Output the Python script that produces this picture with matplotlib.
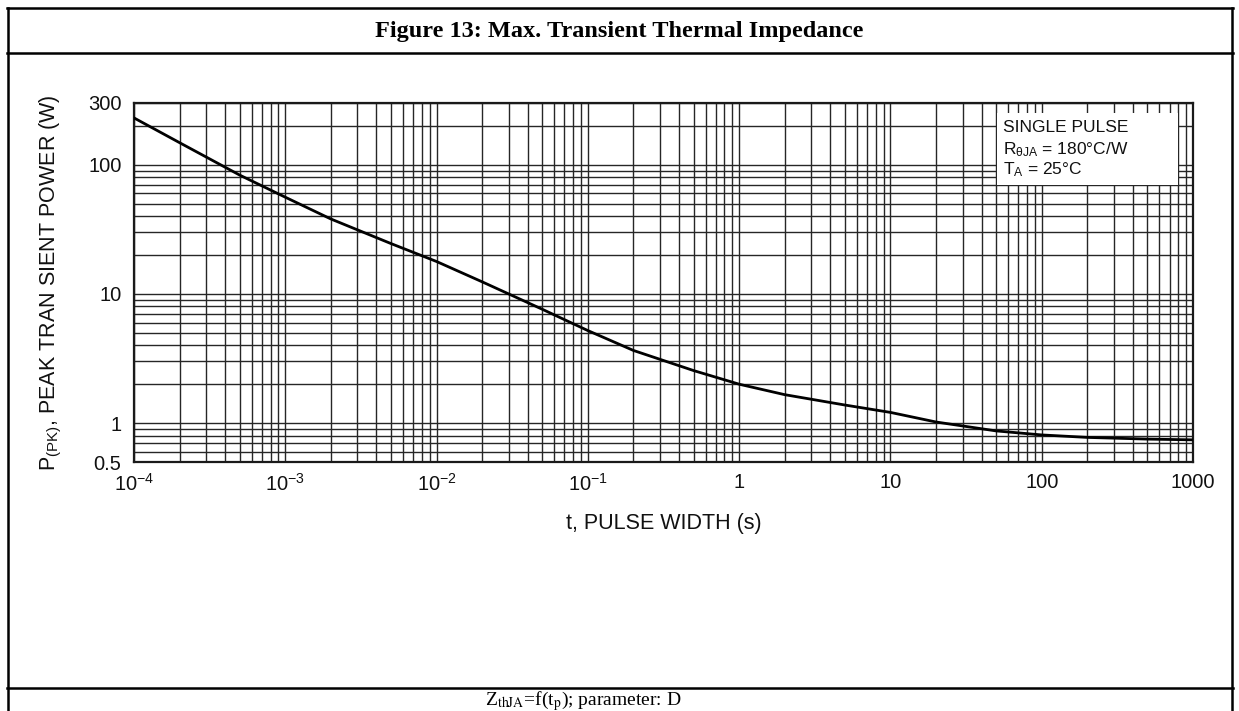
import matplotlib
matplotlib.use("Agg")
import matplotlib.pyplot as plt
from matplotlib.lines import Line2D
from matplotlib.patches import Rectangle
from matplotlib.ticker import LogLocator, FixedLocator, NullFormatter

# curve
pulse_width = [1e-4, 2e-4, 5e-4, 1e-3, 2e-3, 5e-3, 1e-2, 2e-2, 5e-2, 1e-1,
               2e-1, 5e-1, 1, 2, 5, 10, 20, 50, 100, 200, 500, 1000]
peak_power = [230, 148, 83, 56, 38, 24.5, 17.8, 12.4, 7.6, 5.2,
              3.65, 2.55, 2.0, 1.66, 1.38, 1.21, 1.02, 0.87, 0.81, 0.775, 0.752, 0.742]

x_ticks = [1e-4, 1e-3, 1e-2, 1e-1, 1, 10, 100, 1000]
x_labels = ["10$^{-4}$", "10$^{-3}$", "10$^{-2}$", "10$^{-1}$", "1", "10", "100", "1000"]
y_ticks = [0.5, 1, 10, 100, 300]
y_labels = ["0.5", "1", "10", "100", "300"]

plt.rcParams['font.family'] = ['Liberation Sans', 'DejaVu Sans']
plt.rcParams['mathtext.fontset'] = 'custom'
plt.rcParams['mathtext.rm'] = 'Liberation Sans'
plt.rcParams['mathtext.it'] = 'Liberation Sans:italic'
plt.rcParams['mathtext.bf'] = 'Liberation Sans:bold'

W, H = 1239, 711
fig = plt.figure(figsize=(W / 100, H / 100), dpi=100)


def fx(px):
    return px / W


def fy(py):
    return 1 - py / H


# datasheet table frame
frame = dict(color='black', lw=1.8, transform=fig.transFigure)
fig.add_artist(Line2D([fx(8), fx(8)], [fy(8), fy(720)], **frame))
fig.add_artist(Line2D([fx(1232), fx(1232)], [fy(8), fy(720)], **frame))
fig.add_artist(Line2D([fx(7), fx(1233)], [fy(8), fy(8)], **frame))
fig.add_artist(Line2D([fx(7), fx(1233)], [fy(53), fy(53)], **frame))
fig.add_artist(Line2D([fx(7), fx(1233)], [fy(688), fy(688)], **frame))

fig.text(0.5, fy(31), "Figure 13: Max. Transient Thermal Impedance",
         ha='center', va='center', fontsize=17.5, fontweight='bold',
         family='Liberation Serif')
fig.text(fx(583), fy(705), "Z$_{\\mathrm{thJA}}$=f(t$_{\\mathrm{p}}$); parameter: D",
         ha='center', va='baseline', fontsize=14, family='Liberation Serif',
         math_fontfamily='stix')

# plot area
ax = fig.add_axes([fx(134), fy(462), fx(1193) - fx(134), fy(103) - fy(462)])
ax.set_xscale('log')
ax.set_yscale('log')
ax.set_xlim(1e-4, 1e3)
ax.set_ylim(0.5, 300)

ax.xaxis.set_major_locator(FixedLocator(x_ticks))
ax.set_xticklabels(x_labels)
ax.xaxis.set_minor_locator(LogLocator(base=10, subs=range(2, 10), numticks=20))
ax.xaxis.set_minor_formatter(NullFormatter())
ax.yaxis.set_major_locator(FixedLocator(y_ticks))
ax.set_yticklabels(y_labels)
ax.yaxis.set_minor_locator(LogLocator(base=10, subs=range(1, 10), numticks=20))
ax.yaxis.set_minor_formatter(NullFormatter())

ax.grid(which='both', color='#262626', lw=1.0)
ax.tick_params(which='both', length=0, labelsize=14.5, colors='#111111')
ax.tick_params(axis='x', pad=8)
ax.tick_params(axis='y', pad=9)
for s in ax.spines.values():
    s.set_color('#1a1a1a')
    s.set_linewidth(1.6)

ax.plot(pulse_width, peak_power, color='black', lw=2.0, zorder=3)

# annotation box
ax.add_patch(Rectangle((fx(997), fy(185)), fx(1178) - fx(997), fy(113) - fy(185),
                       transform=fig.transFigure, facecolor='white',
                       edgecolor='none', zorder=4))
note = dict(transform=fig.transFigure, fontsize=12.5, ha='left', va='center',
            zorder=5, color='#111111')
ax.text(fx(1003), fy(128), "SINGLE PULSE", **note)
ax.text(fx(1003), fy(150), "R$_{\\mathregular{θJA}}$ = 180°C/W", **note)
ax.text(fx(1003), fy(170), "T$_{\\mathregular{A}}$ = 25°C", **note)

ax.set_xlabel("t, PULSE WIDTH (s)", fontsize=15.5, color='#111111')
ax.xaxis.set_label_coords(0.5, -0.142)
ax.xaxis.label.set_va('top')
ax.set_ylabel("P$_{\\mathregular{(PK)}}$, PEAK TRAN SIENT POWER (W)",
              fontsize=15.5, color='#111111')
ax.yaxis.set_label_coords(-0.066, 0.5)

fig.savefig("out.png", dpi=100)
